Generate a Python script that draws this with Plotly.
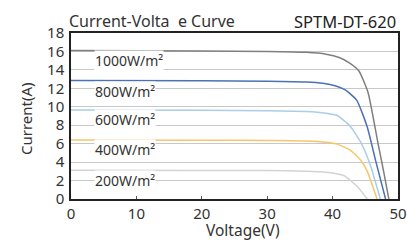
import plotly.graph_objects as go

labels = ["1000W/m\u00b2", "800W/m\u00b2", "600W/m\u00b2", "400W/m\u00b2", "200W/m\u00b2"]
colors = ["#7f7f7f", "#4a72b5", "#a9cdea", "#f6c76a", "#d3d3d3"]

v_1000 = [0, 20, 30, 36, 39, 41, 42.5, 44, 45.4, 46.9, 47.8, 48.6]
i_1000 = [16.1, 16.05, 16.0, 15.9, 15.7, 15.35, 14.8, 13.9, 11.6, 6.2, 3.0, 0]
v_800 = [0, 20, 30, 36, 38.5, 40.5, 42, 43.7, 45.3, 46.6, 48.1]
i_800 = [12.85, 12.82, 12.78, 12.7, 12.55, 12.25, 11.8, 10.7, 7.8, 4.1, 0]
v_600 = [0, 20, 30, 36, 39, 40.7, 42.7, 44.5, 45.8, 47.3]
i_600 = [9.65, 9.62, 9.58, 9.5, 9.3, 9.05, 7.9, 5.9, 3.6, 0]
v_400 = [0, 20, 30, 36, 39, 40.7, 42.7, 44.3, 45.3, 46.8]
i_400 = [6.4, 6.38, 6.35, 6.3, 6.15, 5.95, 5.3, 4.2, 3.0, 0]
v_200 = [0, 20, 30, 36, 39, 41.7, 43.7, 45.3]
i_200 = [3.12, 3.1, 3.08, 3.02, 2.9, 2.55, 1.4, 0]

label_x = [3.5, 3.5, 3.5, 3.5, 3.5]
label_y = [15.0, 11.7, 8.6, 5.4, 2.0]

y_ticks = [0, 2, 4, 6, 8, 10, 12, 14, 16, 18]
x_ticks = [0, 10, 20, 30, 40, 50]

series = [(v_1000, i_1000), (v_800, i_800), (v_600, i_600), (v_400, i_400), (v_200, i_200)]

font_family = "Noto Sans"
fig = go.Figure()
for (v, i), c, name in zip(series, colors, labels):
    fig.add_trace(go.Scatter(x=v, y=i, mode="lines", name=name,
                             line=dict(color=c, width=1.5, shape="spline", smoothing=0.5),
                             hoverinfo="skip"))

for lx, ly, t in zip(label_x, label_y, labels):
    fig.add_annotation(x=lx, y=ly, text=t, showarrow=False, xanchor="left", yanchor="middle",
                       font=dict(family=font_family, size=14, color="#333333"),
                       bgcolor="white", borderpad=0)

fig.add_annotation(xref="paper", yref="paper", x=-0.012, y=1.1506, xanchor="left", yanchor="top",
                   text="Current-Volta\u00a0\u00a0e Curve", showarrow=False,
                   font=dict(family=font_family, size=16, color="#333333"))
fig.add_annotation(xref="paper", yref="paper", x=1.0, y=1.1506, xanchor="right", yanchor="top",
                   text="SPTM-DT-620", showarrow=False,
                   font=dict(family=font_family, size=16.5, color="#222222"))
fig.add_annotation(xref="paper", yref="paper", x=0.526, y=-0.264, xanchor="center", yanchor="bottom",
                   text="Voltage(V)", showarrow=False,
                   font=dict(family=font_family, size=15.5, color="#333333"))
fig.add_annotation(xref="paper", yref="paper", x=-0.1376, y=0.482, xanchor="center", yanchor="middle",
                   text="Current(A)", showarrow=False, textangle=-90,
                   font=dict(family=font_family, size=15, color="#333333"))

# the page body adds an 8px offset; the figure is sized to fit the window
fig.update_layout(
    width=411, height=235,
    margin=dict(l=63, r=21, t=25, b=44),
    paper_bgcolor="white", plot_bgcolor="white",
    showlegend=False,
    font=dict(family=font_family, size=15, color="#333333"),
    xaxis=dict(range=[0, 50], tickvals=x_ticks, showgrid=False, zeroline=False, automargin=False,
               showline=True, linecolor="#222222", linewidth=1.5, mirror=True,
               ticks="inside", ticklen=3, tickcolor="#555555"),
    yaxis=dict(range=[0, 18], tickvals=y_ticks, showgrid=True, gridcolor="#c8c8c8", gridwidth=1.3,
               zeroline=False, showline=True, linecolor="#222222", linewidth=1.5, mirror=True,
               automargin=False, ticks="", ticklabelstandoff=2),
)

fig.write_html("out.html")
